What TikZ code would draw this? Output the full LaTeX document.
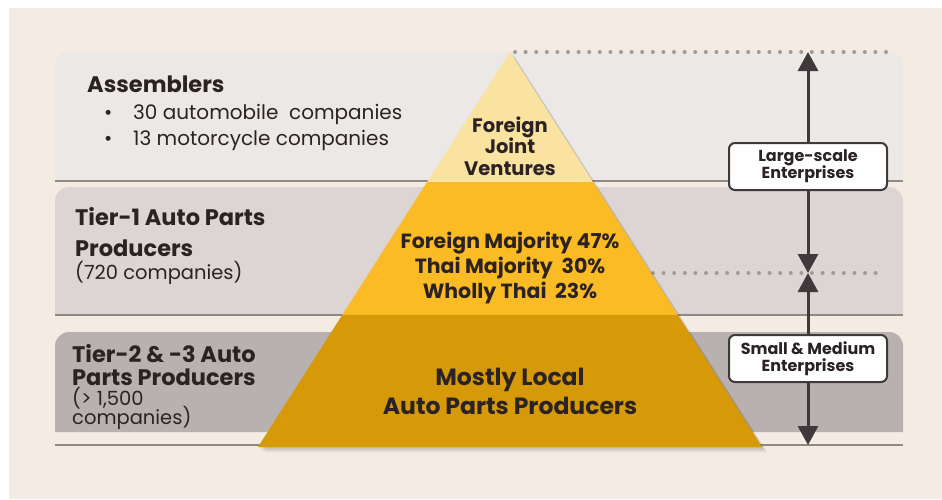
\documentclass[tikz,border=0pt]{standalone}
\usepackage{fontspec}
\setmainfont{Poppins}
\usetikzlibrary{arrows.meta}
\lineskiplimit=-30pt

\definecolor{cream}{HTML}{F4ECE2}
\definecolor{bandA}{HTML}{EBE8E6}
\definecolor{bandB}{HTML}{DDD5D4}
\definecolor{bandC}{HTML}{B9B0B0}
\definecolor{rulegray}{HTML}{8E8987}
\definecolor{tipA}{HTML}{FAE2A0}
\definecolor{tipB}{HTML}{FBBB24}
\definecolor{tipC}{HTML}{D69A08}
\definecolor{ink}{HTML}{2B2323}
\definecolor{arrowgray}{HTML}{3F393B}
\definecolor{dotgray}{HTML}{A09A98}

\tikzset{
  sepline/.style={rulegray, line width=2.5pt},
  dotline/.style={dotgray, line width=4pt, line cap=round, dash pattern=on 0pt off 10.6pt},
  sizebox/.style={draw=arrowgray, fill=white, line width=2pt, rounded corners=6pt,
    minimum width=158pt, minimum height=47pt, inner sep=0pt, align=center, text=ink,
    font=\fontsize{16}{17}\selectfont\bfseries},
  sizearrow/.style={arrowgray, line width=3pt, -{Triangle[width=20pt,length=19pt]}},
  tiertitle/.style={anchor=base west, inner sep=0pt, align=left, text=ink,
    font=\fontsize{22.5}{31}\selectfont\bfseries},
  tiersub/.style={anchor=base west, inner sep=0pt, align=left, text=ink,
    font=\fontsize{19.5}{19}\selectfont},
  layertext/.style={anchor=base, inner sep=0pt, align=center, text=ink}
}

\begin{document}
\begin{tikzpicture}[x=1pt, y=-1pt]

%definitions
\def\pyramid{(510,52) -- (762,447) -- (258,447) -- cycle}

\useasboundingbox (0,0) rectangle (942,499);
\fill[white] (0,0) rectangle (942,499);
\fill[cream] (9,8) rectangle (942,499);

%bands
\fill[bandA, rounded corners=14pt] (55,181) |- (903,52) -- (903,181);
\draw[sepline] (55,181) -- (903,181);
\fill[bandB, rounded corners=14pt] (55,315) |- (903,187) -- (903,315);
\draw[sepline] (55,315) -- (903,315);
\fill[bandC, rounded corners=14pt] (55,432) |- (903,332) -- (903,432);
\draw[sepline] (55,445) -- (903,445);

\draw[dotline] (515,52) -- (890,52);
\draw[dotline] (653,273) -- (882,273);

%pyramid
\foreach \s in {1,...,6}
  \fill[black, opacity=0.035, shift={(\s*0.9,\s*0.9)}] \pyramid;
\begin{scope}
\clip \pyramid;
\fill[tipA] (250,40) rectangle (770,182);
\fill[tipB] (250,182) rectangle (770,315);
\fill[tipC] (250,315) rectangle (770,450);
\end{scope}

%texts (base = last line)
\node[tiertitle] (assemblers) at (87,92) {Assemblers};
\node[tiersub, font=\fontsize{20}{20}\selectfont] (cars) at (104,119) {\makebox[29pt][l]{\textbullet}30 automobile\ \ companies};
\node[tiersub, font=\fontsize{20}{20}\selectfont] (bikes) at (104,145) {\makebox[29pt][l]{\textbullet}13 motorcycle companies};

\node[tiertitle] (tierone) at (75,256) {Tier-1 Auto Parts\\Producers};
\node[tiersub] (tieronesub) at (75,279) {(720 companies)};

\node[tiertitle, font=\fontsize{22.5}{23}\selectfont\bfseries] (tiertwo) at (72,385) {Tier-2 \& -3 Auto\\Parts Producers};
\node[tiersub] (tiertwosub) at (72,424) {(> 1,500\\companies)};

\node[layertext, font=\fontsize{19.5}{21.5}\selectfont\bfseries] (jv) at (510,175) {Foreign\\Joint\\Ventures};
\node[layertext, font=\fontsize{20.5}{25}\selectfont\bfseries] (shares) at (510,298)
  {Foreign Majority\ 47\%\\Thai Majority\ \ 30\%\\Wholly Thai\ \ 23\%};
\node[layertext, font=\fontsize{23.5}{29}\selectfont\bfseries] (locals) at (510,414)
  {Mostly Local\\Auto Parts Producers};

%sizes
\coordinate (topmark) at (808,52);
\coordinate (midmark) at (808,273);
\coordinate (basemark) at (808,445);
\node[sizebox] (large) at (808,166.5) {Large-scale\\Enterprises};
\node[sizebox] (small) at (808,358.5) {Small \& Medium\\Enterprises};
\draw[sizearrow] (large) -- (topmark);
\draw[sizearrow] (large) -- (midmark);
\draw[sizearrow] (small) -- (midmark);
\draw[sizearrow] (small) -- (basemark);

\end{tikzpicture}
\end{document}
